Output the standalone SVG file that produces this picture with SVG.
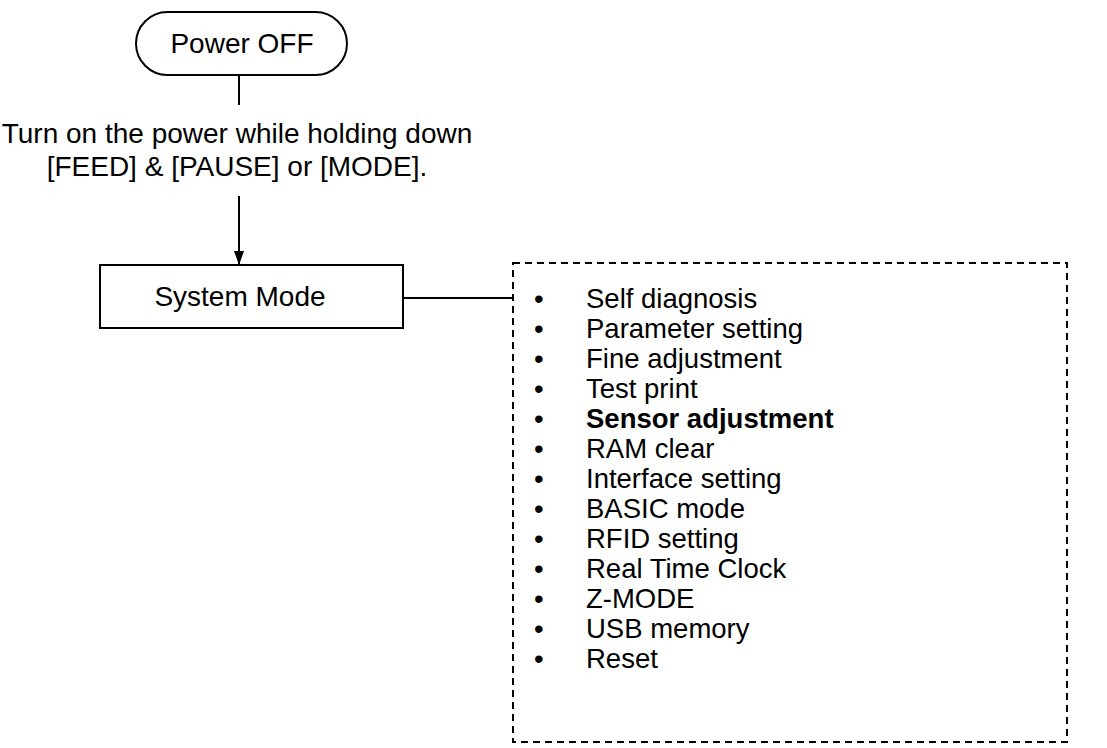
<svg xmlns="http://www.w3.org/2000/svg" width="1107" height="748" viewBox="0 0 1107 748">
<style>
text{font-family:"Liberation Sans",Arial,sans-serif;font-size:28px;fill:#000}
.s{fill:none;stroke:#000;stroke-width:2}
.it text{font-size:27.5px}
</style>
<defs>
<marker id="b" viewBox="0 0 14 10" markerWidth="14" markerHeight="10" refX="14" refY="5" orient="auto" markerUnits="userSpaceOnUse"><path d="M0,0 L14,5 L0,10 Z"/></marker></defs>
<rect width="1107" height="748" fill="#fff"/>
<g id="power"><rect class="s" x="136" y="12" width="211" height="63" rx="31.5"/><text x="242" y="53" text-anchor="middle">Power OFF</text></g>
<g id="label"><text x="237" y="143" text-anchor="middle">Turn on the power while holding down</text><text x="237" y="176" text-anchor="middle">[FEED] &amp; [PAUSE] or [MODE].</text></g>
<g id="sys"><rect class="s" x="100" y="265" width="303" height="63"/><text x="240" y="306" text-anchor="middle">System Mode</text></g>
<g id="list"><rect class="s" x="513" y="263" width="554" height="479" stroke-dasharray="7,5" stroke-width="1.5"/>
<g class="it">
<text x="534" y="308">•</text><text x="586" y="308">Self diagnosis</text>
<text x="534" y="338">•</text><text x="586" y="338">Parameter setting</text>
<text x="534" y="368">•</text><text x="586" y="368">Fine adjustment</text>
<text x="534" y="398">•</text><text x="586" y="398">Test print</text>
<text x="534" y="428">•</text><text x="586" y="428" font-weight="bold">Sensor adjustment</text>
<text x="534" y="458">•</text><text x="586" y="458">RAM clear</text>
<text x="534" y="488">•</text><text x="586" y="488">Interface setting</text>
<text x="534" y="518">•</text><text x="586" y="518">BASIC mode</text>
<text x="534" y="548">•</text><text x="586" y="548">RFID setting</text>
<text x="534" y="578">•</text><text x="586" y="578">Real Time Clock</text>
<text x="534" y="608">•</text><text x="586" y="608">Z-MODE</text>
<text x="534" y="638">•</text><text x="586" y="638">USB memory</text>
<text x="534" y="668">•</text><text x="586" y="668">Reset</text>
</g></g>
<g id="connectors">
<line class="s" x1="239" y1="75" x2="239" y2="105"/>
<line class="s" x1="239" y1="196" x2="239" y2="265" marker-end="url(#b)"/>
<line class="s" x1="403" y1="298" x2="513" y2="298"/>
</g>
</svg>
